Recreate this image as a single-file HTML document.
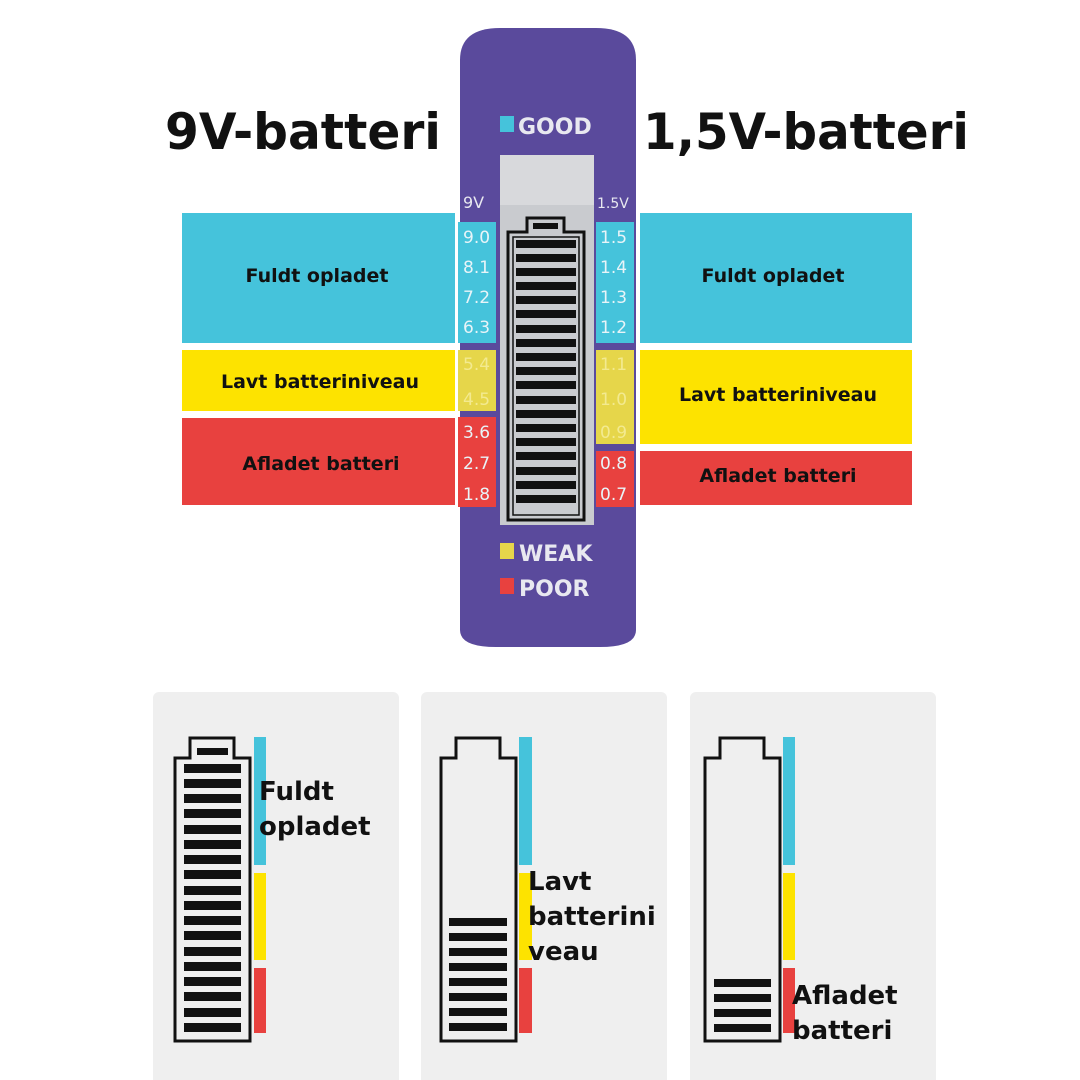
<!DOCTYPE html>
<html><head><style>
html,body{margin:0;padding:0;background:#fff;}
svg{display:block;}
text{font-family:"DejaVu Sans","Liberation Sans",sans-serif;font-weight:bold;}
</style></head><body>
<svg width="1080" height="1080" viewBox="0 0 1080 1080" xmlns="http://www.w3.org/2000/svg">
<rect width="1080" height="1080" fill="#fff"/>
<!-- titles -->
<text x="303" y="149" font-size="50" text-anchor="middle" fill="#111" textLength="276" lengthAdjust="spacingAndGlyphs">9V-batteri</text>
<text x="806" y="149" font-size="50" text-anchor="middle" fill="#111" textLength="326" lengthAdjust="spacingAndGlyphs">1,5V-batteri</text>
<!-- left bands -->
<rect x="182" y="213" width="273" height="130" fill="#45c3db"/>
<rect x="182" y="350" width="273" height="61" fill="#fde300"/>
<rect x="182" y="418" width="273" height="87" fill="#e8413f"/>
<text x="317" y="282" font-size="19" text-anchor="middle" fill="#111">Fuldt opladet</text>
<text x="320" y="388" font-size="19" text-anchor="middle" fill="#111">Lavt batteriniveau</text>
<text x="321" y="470" font-size="19" text-anchor="middle" fill="#111">Afladet batteri</text>
<!-- right bands -->
<rect x="640" y="213" width="272" height="130" fill="#45c3db"/>
<rect x="640" y="350" width="272" height="94" fill="#fde300"/>
<rect x="640" y="451" width="272" height="54" fill="#e8413f"/>
<text x="773" y="282" font-size="19" text-anchor="middle" fill="#111">Fuldt opladet</text>
<text x="778" y="401" font-size="19" text-anchor="middle" fill="#111">Lavt batteriniveau</text>
<text x="778" y="482" font-size="19" text-anchor="middle" fill="#111">Afladet batteri</text>
<!-- pill -->
<path d="M460 60 Q460 28 500 28 L596 28 Q636 28 636 60 L636 630 Q636 647 600 647 L496 647 Q460 647 460 630 Z" fill="#5a4a9c"/>
<rect x="500" y="116" width="14" height="16" fill="#45c3db"/>
<text x="518" y="134" font-size="22" fill="#e8e8f0">GOOD</text>
<rect x="500" y="155" width="94" height="370" fill="#c9cbcf"/>
<rect x="500" y="155" width="94" height="50" fill="#d8d9dc"/>
<!-- columns -->
<text x="463" y="208" font-size="16" font-weight="normal" fill="#e8e8f0" style="font-weight:normal">9V</text>
<text x="597" y="208" font-size="14" fill="#e8e8f0" style="font-weight:normal">1.5V</text>
<rect x="458" y="222" width="38" height="121" fill="#45c3db"/>
<rect x="458" y="350" width="38" height="61" fill="#e6d64a"/>
<rect x="458" y="417" width="38" height="90" fill="#e8413f"/>
<rect x="596" y="222" width="38" height="121" fill="#45c3db"/>
<rect x="596" y="350" width="38" height="94" fill="#e6d64a"/>
<rect x="596" y="451" width="38" height="56" fill="#e8413f"/>
<g font-size="17" fill="#e8f4f8" style="font-weight:normal">
<text x="463" y="243" style="font-weight:normal">9.0</text>
<text x="463" y="273" style="font-weight:normal">8.1</text>
<text x="463" y="303" style="font-weight:normal">7.2</text>
<text x="463" y="333" style="font-weight:normal">6.3</text>
<text x="463" y="370" fill="#f3ea90" style="font-weight:normal">5.4</text>
<text x="463" y="405" fill="#f3ea90" style="font-weight:normal">4.5</text>
<text x="463" y="438" style="font-weight:normal">3.6</text>
<text x="463" y="469" style="font-weight:normal">2.7</text>
<text x="463" y="500" style="font-weight:normal">1.8</text>
<text x="600" y="243" style="font-weight:normal">1.5</text>
<text x="600" y="273" style="font-weight:normal">1.4</text>
<text x="600" y="303" style="font-weight:normal">1.3</text>
<text x="600" y="333" style="font-weight:normal">1.2</text>
<text x="600" y="370" fill="#f3ea90" style="font-weight:normal">1.1</text>
<text x="600" y="405" fill="#f3ea90" style="font-weight:normal">1.0</text>
<text x="600" y="438" fill="#f3ea90" style="font-weight:normal">0.9</text>
<text x="600" y="469" style="font-weight:normal">0.8</text>
<text x="600" y="500" style="font-weight:normal">0.7</text>
</g>
<!-- top battery -->
<path d="M508 520 L508 232 L527 232 L527 218 L564 218 L564 232 L584 232 L584 520 Z" fill="#c9cbcf" stroke="#111" stroke-width="3"/>
<rect x="513" y="237" width="66" height="278" fill="none" stroke="#111" stroke-width="1.5"/>
<rect x="533" y="223" width="25" height="6" fill="#111"/>
<g fill="#111" id="tb"></g>
<g fill="#111">
<rect x="516" y="240" width="60" height="8"/><rect x="516" y="254" width="60" height="8"/><rect x="516" y="268" width="60" height="8"/><rect x="516" y="282" width="60" height="8"/><rect x="516" y="296" width="60" height="8"/><rect x="516" y="310" width="60" height="8"/><rect x="516" y="325" width="60" height="8"/><rect x="516" y="339" width="60" height="8"/><rect x="516" y="353" width="60" height="8"/><rect x="516" y="367" width="60" height="8"/><rect x="516" y="381" width="60" height="8"/><rect x="516" y="396" width="60" height="8"/><rect x="516" y="410" width="60" height="8"/><rect x="516" y="424" width="60" height="8"/><rect x="516" y="438" width="60" height="8"/><rect x="516" y="452" width="60" height="8"/><rect x="516" y="467" width="60" height="8"/><rect x="516" y="481" width="60" height="8"/><rect x="516" y="495" width="60" height="8"/>
</g>
<rect x="500" y="543" width="14" height="16" fill="#e6d64a"/>
<text x="519" y="561" font-size="22" fill="#e8e8f0">WEAK</text>
<rect x="500" y="578" width="14" height="16" fill="#e8413f"/>
<text x="519" y="596" font-size="22" fill="#e8e8f0">POOR</text>
<!-- bottom panels -->
<rect x="153" y="692" width="246" height="400" rx="6" fill="#efefef"/>
<rect x="421" y="692" width="246" height="400" rx="6" fill="#efefef"/>
<rect x="690" y="692" width="246" height="400" rx="6" fill="#efefef"/>
<g fill="none" stroke="#111" stroke-width="3">
<path d="M175 1041 L175 758 L190 758 L190 738 L234 738 L234 758 L250 758 L250 1041 Z"/>
<path d="M441 1041 L441 758 L456 758 L456 738 L500 738 L500 758 L516 758 L516 1041 Z"/>
<path d="M705 1041 L705 758 L720 758 L720 738 L764 738 L764 758 L780 758 L780 1041 Z"/>
</g>
<!-- side color bars -->
<rect x="254" y="737" width="12" height="128" fill="#45c3db"/><rect x="254" y="873" width="12" height="87" fill="#fde300"/><rect x="254" y="968" width="12" height="65" fill="#e8413f"/>
<rect x="519" y="737" width="13" height="128" fill="#45c3db"/><rect x="519" y="873" width="13" height="87" fill="#fde300"/><rect x="519" y="968" width="13" height="65" fill="#e8413f"/>
<rect x="783" y="737" width="12" height="128" fill="#45c3db"/><rect x="783" y="873" width="12" height="87" fill="#fde300"/><rect x="783" y="968" width="12" height="65" fill="#e8413f"/>
<g fill="#111">
<rect x="197" y="748" width="31" height="7"/>
<rect x="184" y="764" width="57" height="9"/><rect x="184" y="779" width="57" height="9"/><rect x="184" y="794" width="57" height="9"/><rect x="184" y="809" width="57" height="9"/><rect x="184" y="825" width="57" height="9"/><rect x="184" y="840" width="57" height="9"/><rect x="184" y="855" width="57" height="9"/><rect x="184" y="870" width="57" height="9"/><rect x="184" y="886" width="57" height="9"/><rect x="184" y="901" width="57" height="9"/><rect x="184" y="916" width="57" height="9"/><rect x="184" y="931" width="57" height="9"/><rect x="184" y="947" width="57" height="9"/><rect x="184" y="962" width="57" height="9"/><rect x="184" y="977" width="57" height="9"/><rect x="184" y="992" width="57" height="9"/><rect x="184" y="1008" width="57" height="9"/><rect x="184" y="1023" width="57" height="9"/>
<rect x="449" y="918" width="58" height="8"/><rect x="449" y="933" width="58" height="8"/><rect x="449" y="948" width="58" height="8"/><rect x="449" y="963" width="58" height="8"/><rect x="449" y="978" width="58" height="8"/><rect x="449" y="993" width="58" height="8"/><rect x="449" y="1008" width="58" height="8"/><rect x="449" y="1023" width="58" height="8"/>
<rect x="714" y="979" width="57" height="8"/><rect x="714" y="994" width="57" height="8"/><rect x="714" y="1009" width="57" height="8"/><rect x="714" y="1024" width="57" height="8"/>
</g>
<g font-size="26" fill="#111">
<text x="259" y="800">Fuldt</text>
<text x="259" y="835">opladet</text>
<text x="528" y="890">Lavt</text>
<text x="528" y="925">batterini</text>
<text x="528" y="960">veau</text>
<text x="792" y="1004">Afladet</text>
<text x="792" y="1039">batteri</text>
</g>
</svg>
</body></html>
